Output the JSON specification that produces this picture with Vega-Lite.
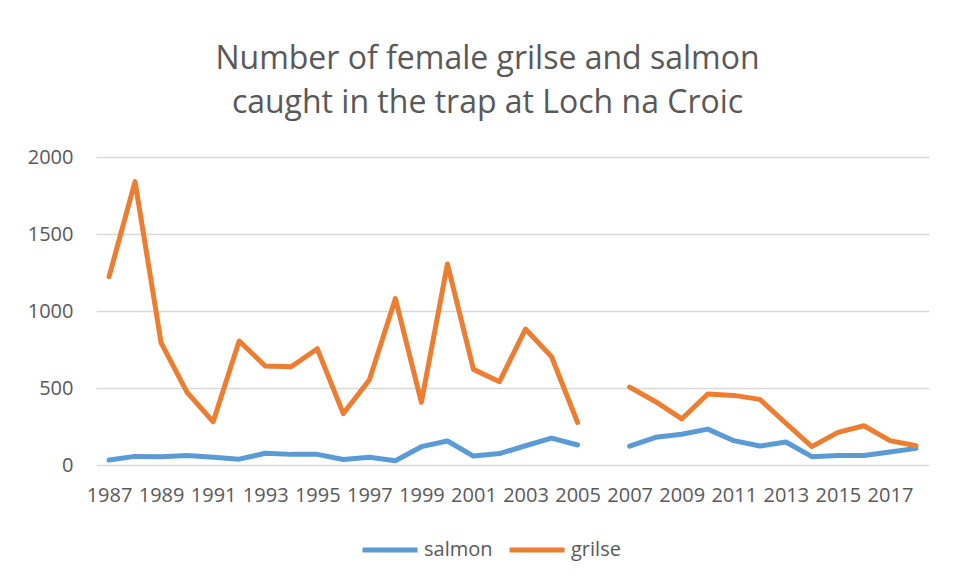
{
  "$schema": "https://vega.github.io/schema/vega-lite/v6.json",
  "autosize": {"type": "none"},
  "padding": {"left": 96, "top": 157, "right": 27, "bottom": 116},
  "width": 833,
  "height": 308,
  "background": "white",
  "title": {
    "text": ["Number of female grilse and salmon", "caught in the trap at Loch na Croic"],
    "font": "Open Sans",
    "fontSize": 32,
    "fontWeight": "normal",
    "color": "#595959",
    "lineHeight": 44,
    "anchor": "middle",
    "dx": -25,
    "offset": 27
  },
  "data": {
    "values": [
      {"year": 1987, "series": "salmon", "value": 32}, {"year": 1987, "series": "grilse", "value": 1222},
      {"year": 1988, "series": "salmon", "value": 56}, {"year": 1988, "series": "grilse", "value": 1840},
      {"year": 1989, "series": "salmon", "value": 54}, {"year": 1989, "series": "grilse", "value": 794},
      {"year": 1990, "series": "salmon", "value": 62}, {"year": 1990, "series": "grilse", "value": 472},
      {"year": 1991, "series": "salmon", "value": 50}, {"year": 1991, "series": "grilse", "value": 281},
      {"year": 1992, "series": "salmon", "value": 38}, {"year": 1992, "series": "grilse", "value": 805},
      {"year": 1993, "series": "salmon", "value": 76}, {"year": 1993, "series": "grilse", "value": 643},
      {"year": 1994, "series": "salmon", "value": 69}, {"year": 1994, "series": "grilse", "value": 638},
      {"year": 1995, "series": "salmon", "value": 69}, {"year": 1995, "series": "grilse", "value": 755},
      {"year": 1996, "series": "salmon", "value": 36}, {"year": 1996, "series": "grilse", "value": 334},
      {"year": 1997, "series": "salmon", "value": 50}, {"year": 1997, "series": "grilse", "value": 552},
      {"year": 1998, "series": "salmon", "value": 28}, {"year": 1998, "series": "grilse", "value": 1080},
      {"year": 1999, "series": "salmon", "value": 119}, {"year": 1999, "series": "grilse", "value": 407},
      {"year": 2000, "series": "salmon", "value": 156}, {"year": 2000, "series": "grilse", "value": 1305},
      {"year": 2001, "series": "salmon", "value": 58}, {"year": 2001, "series": "grilse", "value": 621},
      {"year": 2002, "series": "salmon", "value": 74}, {"year": 2002, "series": "grilse", "value": 541},
      {"year": 2003, "series": "salmon", "value": 125}, {"year": 2003, "series": "grilse", "value": 883},
      {"year": 2004, "series": "salmon", "value": 175}, {"year": 2004, "series": "grilse", "value": 703},
      {"year": 2005, "series": "salmon", "value": 130}, {"year": 2005, "series": "grilse", "value": 276},
      {"year": 2006, "series": "salmon", "value": null}, {"year": 2006, "series": "grilse", "value": null},
      {"year": 2007, "series": "salmon", "value": 122}, {"year": 2007, "series": "grilse", "value": 506},
      {"year": 2008, "series": "salmon", "value": 180}, {"year": 2008, "series": "grilse", "value": 411},
      {"year": 2009, "series": "salmon", "value": 200}, {"year": 2009, "series": "grilse", "value": 299},
      {"year": 2010, "series": "salmon", "value": 233}, {"year": 2010, "series": "grilse", "value": 461},
      {"year": 2011, "series": "salmon", "value": 158}, {"year": 2011, "series": "grilse", "value": 452},
      {"year": 2012, "series": "salmon", "value": 123}, {"year": 2012, "series": "grilse", "value": 426},
      {"year": 2013, "series": "salmon", "value": 149}, {"year": 2013, "series": "grilse", "value": 271},
      {"year": 2014, "series": "salmon", "value": 54}, {"year": 2014, "series": "grilse", "value": 119},
      {"year": 2015, "series": "salmon", "value": 62}, {"year": 2015, "series": "grilse", "value": 212},
      {"year": 2016, "series": "salmon", "value": 62}, {"year": 2016, "series": "grilse", "value": 255},
      {"year": 2017, "series": "salmon", "value": 84}, {"year": 2017, "series": "grilse", "value": 158},
      {"year": 2018, "series": "salmon", "value": 108}, {"year": 2018, "series": "grilse", "value": 125}
    ]
  },
  "mark": {
    "type": "line",
    "strokeWidth": 5,
    "strokeCap": "round",
    "strokeJoin": "round",
    "invalid": "break-paths-show-domains"
  },
  "encoding": {
    "x": {
      "field": "year",
      "type": "ordinal",
      "scale": {"type": "point", "padding": 0.5,
        "domain": [1987,1988,1989,1990,1991,1992,1993,1994,1995,1996,1997,1998,1999,2000,2001,2002,2003,2004,2005,2006,2007,2008,2009,2010,2011,2012,2013,2014,2015,2016,2017,2018]},
      "axis": {
        "title": null,
        "values": [1987,1989,1991,1993,1995,1997,1999,2001,2003,2005,2007,2009,2011,2013,2015,2017],
        "labelAngle": 0,
        "labelFont": "Open Sans",
        "labelFontSize": 20,
        "labelColor": "#595959",
        "labelPadding": 20,
        "labelOverlap": false,
        "ticks": false,
        "domain": false,
        "grid": false
      }
    },
    "y": {
      "field": "value",
      "type": "quantitative",
      "scale": {"domain": [0, 2000], "nice": false},
      "axis": {
        "title": null,
        "values": [0, 500, 1000, 1500, 2000],
        "format": "d",
        "labelFont": "Open Sans",
        "labelFontSize": 20,
        "labelColor": "#595959",
        "labelPadding": 23,
        "ticks": false,
        "domain": false,
        "grid": true,
        "gridColor": "#d9d9d9",
        "gridWidth": 1.5
      }
    },
    "color": {
      "field": "series",
      "type": "nominal",
      "scale": {"domain": ["salmon", "grilse"], "range": ["#5B9BD5", "#ED7D31"]},
      "legend": {
        "title": null,
        "orient": "none",
        "direction": "horizontal",
        "legendX": 264,
        "legendY": 363,
        "symbolType": "stroke",
        "symbolSize": 3025,
        "symbolStrokeWidth": 5,
        "labelFont": "Open Sans",
        "labelFontSize": 20,
        "labelColor": "#595959",
        "labelOffset": 4,
        "columnPadding": 6
      }
    }
  },
  "config": {"view": {"stroke": null}}
}
